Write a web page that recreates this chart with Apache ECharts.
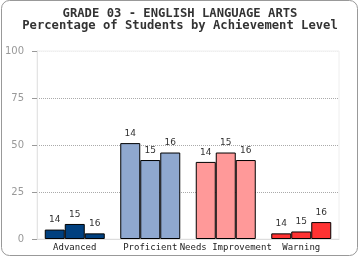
<!DOCTYPE html>
<html><head><meta charset="utf-8">
<script src="https://cdn.jsdelivr.net/npm/echarts@6/dist/echarts.min.js"></script>
<style>html,body{margin:0;padding:0;background:#fff}#c{width:360px;height:260px}</style>
</head><body><div id="c"></div>
<script>
var categories = ['Advanced', 'Proficient', 'Needs Improvement', 'Warning'];
var seriesNames = ['14', '15', '16'];
var values14 = [5, 51, 41, 3];
var values15 = [8, 42, 46, 4];
var values16 = [3, 46, 42, 9];
var categoryColors = ['#00407f', '#8fa8cf', '#ff9999', '#ff3333'];
var yTicks = [0, 25, 50, 75, 100];

var allValues = [values14, values15, values16];
var chart = echarts.init(document.getElementById('c'), null, {renderer: 'canvas'});
var series = seriesNames.map(function (name, si) {
  return {
    name: name,
    type: 'bar',
    barWidth: 20,
    barGap: '0%',
    data: allValues[si].map(function (v, ci) {
      return {value: v, itemStyle: {color: categoryColors[ci]}};
    }),
    itemStyle: {borderColor: '#000', borderWidth: 1},
    label: {show: true, position: 'top', distance: 5, formatter: name,
      fontFamily: 'DejaVu Sans', fontSize: 9, color: '#333'}
  };
});
chart.setOption({
  animation: false,
  backgroundColor: '#fff',
  title: {
    text: 'GRADE 03 - ENGLISH LANGUAGE ARTS\nPercentage of Students by Achievement Level',
    left: 'center', top: 3,
    textStyle: {fontFamily: 'DejaVu Sans Mono', fontWeight: 'bold', fontSize: 12.2, color: '#333', lineHeight: 12}
  },
  graphic: [{type: 'rect', shape: {x: 1.5, y: 0.5, width: 356, height: 255, r: 8},
    style: {fill: 'none', stroke: '#999', lineWidth: 1}, silent: true}],
  grid: {left: 37, right: 21, top: 51, bottom: 21, show: true, borderColor: '#eee', borderWidth: 1},
  xAxis: {
    type: 'category', data: categories,
    axisLine: {lineStyle: {color: '#ddd'}},
    axisTick: {show: false},
    axisLabel: {fontFamily: 'DejaVu Sans Mono', fontSize: 9, color: '#222', margin: 4, interval: 0}
  },
  yAxis: {
    type: 'value', min: 0, max: 100, interval: 25,
    axisLine: {show: true, lineStyle: {color: '#e4e4e4'}},
    axisTick: {show: true, length: 5, lineStyle: {color: '#999'}},
    axisLabel: {fontFamily: 'DejaVu Sans', fontSize: 10, color: '#999', margin: 13,
      formatter: function (v) { return yTicks.indexOf(v) >= 0 ? String(v) : ''; }},
    splitLine: {show: true, lineStyle: {type: [1, 1], color: ['rgba(0,0,0,0)', '#aaa', '#aaa', '#aaa', '#eee'], width: 1}}
  },
  series: series
});
</script></body></html>
